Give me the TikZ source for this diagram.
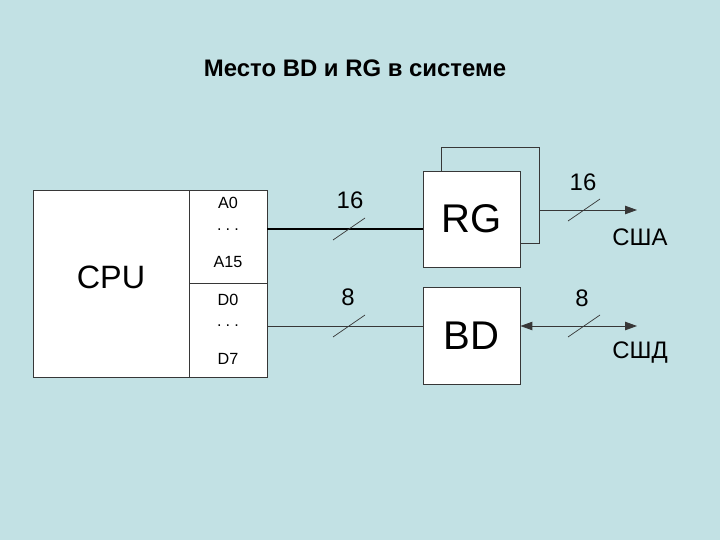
\documentclass[tikz,border=0pt]{standalone}
\usepackage{fontspec}
\setmainfont{Liberation Sans}
\usetikzlibrary{arrows.meta}
\definecolor{slide}{RGB}{194,225,228}
\definecolor{frame}{RGB}{55,55,55}
\tikzset{
  box/.style={draw=frame, fill=white, line width=0.6pt, inner sep=0pt},
  pin/.style={font=\fontsize{11.5}{13}\selectfont, inner sep=1pt},
  width/.style={font=\fontsize{17}{20}\selectfont, inner sep=1pt},
  wire/.style={draw=frame, line width=0.6pt},
  >={Triangle[length=8.5pt,width=6pt]}
}
\newcommand{\busmark}[1]{\draw[frame, line width=0.5pt] (#1) ++(-16,11) -- ++(32,-22);}

\begin{document}
\begin{tikzpicture}[x=0.025cm, y=-0.025cm]
\fill[slide] (0,0) rectangle (720,540);
\useasboundingbox (0,0) rectangle (720,540);

\node[font=\bfseries\fontsize{17}{20}\selectfont] (title) at (355,68) {Место BD и RG в системе};

% processor with its pins
\node[box, minimum width=5.85cm, minimum height=4.675cm] (cpu) at (150,283.5) {};
\draw[wire] (189,190) -- (189,377);
\draw[wire] (189,283) -- (267,283);
\node[font=\fontsize{23}{26}\selectfont] (cpulbl) at (111,277) {CPU};
\node[pin] (a0) at (228,203) {A0};
\node[pin] (adots) at (228,230) {.\hspace{3pt}.\hspace{3pt}.};
\node[pin] (a15) at (228,262) {A15};
\node[pin] (d0) at (228,300) {D0};
\node[pin] (ddots) at (228,326) {.\hspace{3pt}.\hspace{3pt}.};
\node[pin] (d7) at (228,359) {D7};

% register and buffer
\node[box, minimum width=2.425cm, minimum height=2.4cm, font=\fontsize{28.5}{32}\selectfont] (rg) at (471.5,219) {RG};
\node[box, minimum width=2.425cm, minimum height=2.425cm, font=\fontsize{28.5}{32}\selectfont] (bd) at (471.5,335.5) {BD};

% address bus
\coordinate (pa) at (267,229);
\draw[line width=1pt] (pa) -- (pa -| rg.west);
\busmark{349,229}
\node[width] (wa) at (350,200) {16};

\coordinate (fbtop) at (539,147);
\coordinate (tap) at (539,210);
\coordinate (sha) at (637,210);
\draw[wire] ([xshift=0.475cm]rg.north west) |- (fbtop) |- ([yshift=-0.6cm]rg.east);
\draw[wire, ->] (tap) -- (sha);
\busmark{584,210}
\node[width] (wsha) at (583,182) {16};
\node[width] (lsha) at (640,237) {США};

% data bus
\coordinate (pd) at (267,326);
\coordinate (shd) at (637,326);
\draw[wire] (pd) -- (pd -| bd.west);
\busmark{349,326}
\node[width] (wd) at (348,297) {8};
\draw[wire, <->] (pd -| bd.east) -- (shd);
\busmark{584,326}
\node[width] (wshd) at (582,298) {8};
\node[width] (lshd) at (640,353) {СШД};
\end{tikzpicture}
\end{document}
